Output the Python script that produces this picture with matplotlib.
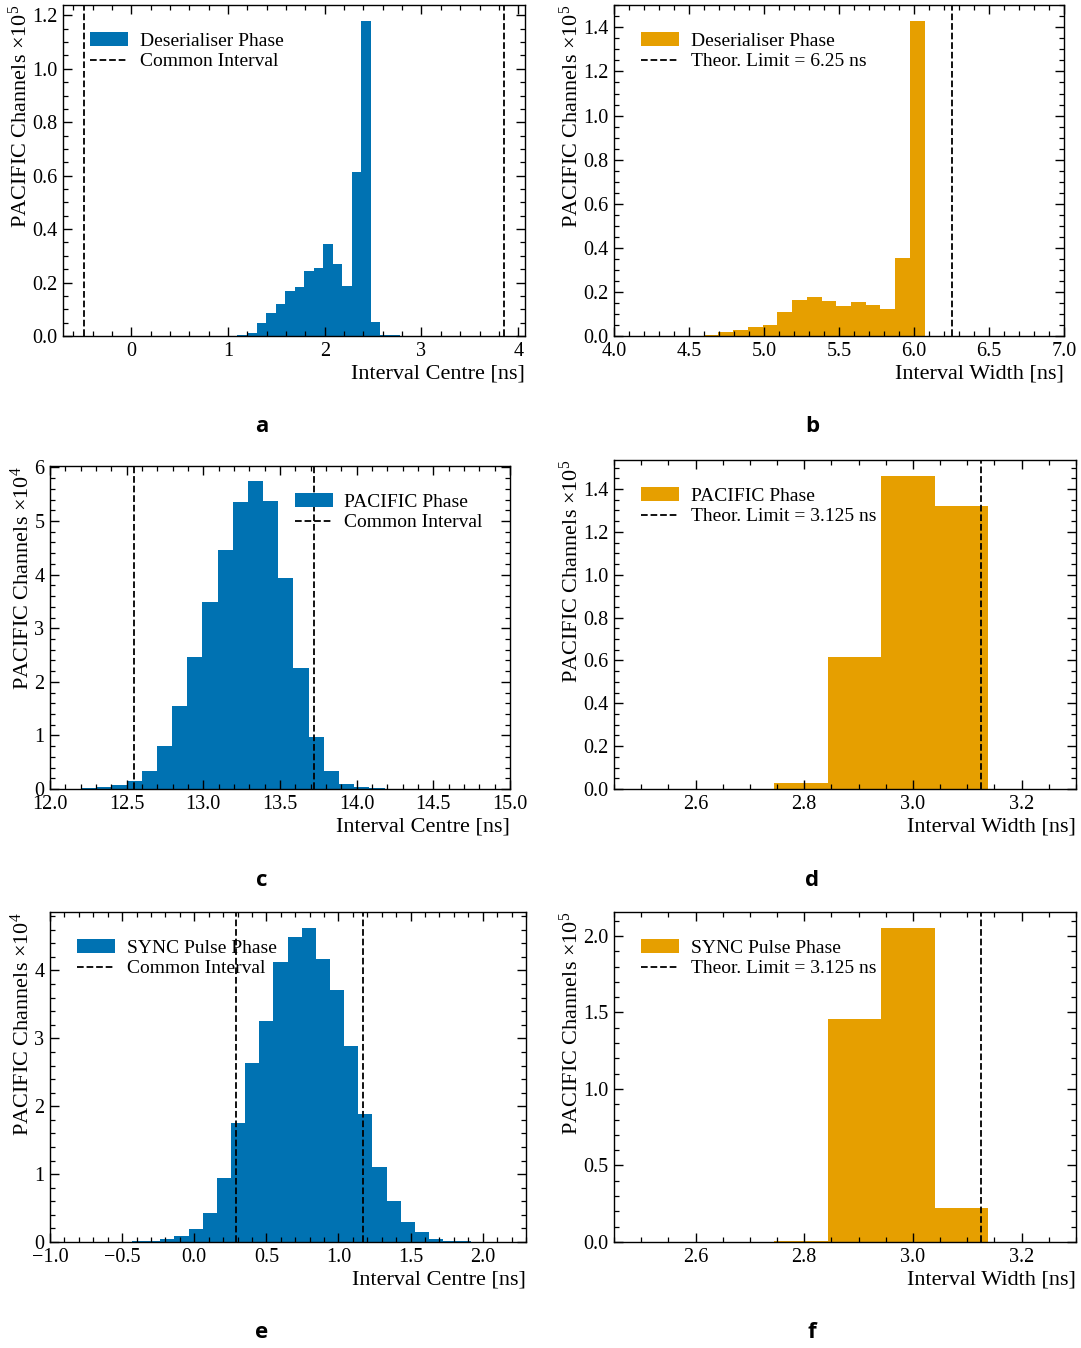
import matplotlib
matplotlib.use("Agg")
import matplotlib.pyplot as plt
import numpy as np
from matplotlib.ticker import AutoMinorLocator, MultipleLocator

# colours (Okabe-Ito blue / orange)
BLUE = "#0072B2"
ORANGE = "#E69F00"

# ---- panel a: deserialiser phase, interval centre (x1e5) ----
a_start, a_width = 1.0, 0.0985
a_counts = [0.001, 0.002, 0.010, 0.049, 0.0875, 0.121, 0.1675, 0.184, 0.2425,
            0.255, 0.344, 0.269, 0.1875, 0.614, 1.18, 0.0525, 0.003, 0.002, 0.001]
a_lines = [-0.485, 3.855]

# ---- panel b: deserialiser phase, interval width (x1e5) ----
b_start, b_width = 3.9106, 0.0982
b_counts = [0.001, 0.001, 0.001, 0.001, 0.001, 0.001, 0.002,
            0.006, 0.018, 0.029, 0.042, 0.048, 0.111, 0.165, 0.177, 0.161,
            0.135, 0.152, 0.142, 0.121, 0.352, 1.43]
b_limit = 6.25

# ---- panel c: PACIFIC phase, interval centre (x1e4) ----
c_start, c_width = 12.004, 0.099
c_counts = [0.005, 0.005, 0.01, 0.03, 0.07, 0.15, 0.34, 0.81, 1.54, 2.47, 3.49,
            4.46, 5.35, 5.74, 5.37, 3.94, 2.26, 0.97, 0.33, 0.10, 0.03, 0.01,
            0.005, 0.005, 0.005, 0.003]
c_lines = [12.546, 13.719]

# ---- panel d: PACIFIC phase, interval width (x1e5) ----
d_start, d_width = 2.4495, 0.0985
d_counts = [0.002, 0.002, 0.002, 0.028, 0.616, 1.462, 1.319]
d_limit = 3.125

# ---- panel e: SYNC pulse phase, interval centre (x1e4) ----
e_start, e_width = -1.019, 0.098
e_counts = [0.003, 0.003, 0.004, 0.004, 0.005, 0.006, 0.008,
            0.02, 0.04, 0.09, 0.19, 0.43, 0.94, 1.75, 2.63, 3.26, 4.13, 4.50,
            4.63, 4.17, 3.71, 2.89, 1.88, 1.10, 0.61, 0.30, 0.14, 0.05, 0.015,
            0.008, 0.005, 0.003, 0.002]
e_lines = [0.29, 1.172]

# ---- panel f: SYNC pulse phase, interval width (x1e5) ----
f_start, f_width = 2.4495, 0.0985
f_counts = [0.002, 0.002, 0.003, 0.004, 1.458, 2.054, 0.224]
f_limit = 3.125

plt.rcParams["font.family"] = ["Liberation Serif", "DejaVu Serif"]
plt.rcParams["mathtext.fontset"] = "custom"
plt.rcParams["mathtext.rm"] = "Liberation Serif"
plt.rcParams["mathtext.it"] = "Liberation Serif:italic"
plt.rcParams["font.size"] = 14
plt.rcParams["axes.linewidth"] = 1.0

W, H = 1081, 1348
fig = plt.figure(figsize=(W / 100, H / 100), dpi=100)


def make_ax(l, r, t, b):
    ax = fig.add_axes([l / W, 1 - b / H, (r - l) / W, (b - t) / H])
    ax.tick_params(which="both", direction="in", top=True, right=True,
                   labelsize=14.5, pad=4)
    ax.tick_params(which="major", length=6.5, width=1.0)
    ax.tick_params(which="minor", length=3.5, width=0.9)
    ax.xaxis.set_minor_locator(AutoMinorLocator())
    ax.yaxis.set_minor_locator(AutoMinorLocator())
    return ax


def edges(start, width, n):
    return start + width * np.arange(n + 1)


def finish(ax, xlabel, exp, tag, tagx, tagy):
    ax.set_xlabel(xlabel, loc="right", fontsize=16, labelpad=3)
    ax.set_ylabel("PACIFIC Channels $\\times10^{%d}$" % exp, loc="top",
                  fontsize=16, labelpad=0.5)
    fig.text(tagx / W, 1 - tagy / H, tag, ha="center", va="center",
             fontsize=16, fontweight="bold", family="Open Sans")


leg_kw = dict(frameon=False, fontsize=14, handlelength=1.95, handleheight=0.7,
              handletextpad=0.6, labelspacing=0.15, borderaxespad=1.0)

# a
ax = make_ax(63, 525, 5, 336)
ax.stairs(a_counts, edges(a_start, a_width, len(a_counts)), fill=True,
          color=BLUE, label="Deserialiser Phase")
for i, x in enumerate(a_lines):
    ax.axvline(x, color="k", ls="--", lw=1.3,
               label="Common Interval" if i == 0 else None)
ax.set_xlim(-0.705, 4.07)
ax.set_ylim(0, max(a_counts) * 1.05)
ax.legend(loc="upper left", **leg_kw)
finish(ax, "Interval Centre [ns]", 5, "a", 262, 427)

# b
ax = make_ax(614, 1064, 5, 336)
ax.stairs(b_counts, edges(b_start, b_width, len(b_counts)), fill=True,
          color=ORANGE, label="Deserialiser Phase")
ax.axvline(b_limit, color="k", ls="--", lw=1.3,
           label="Theor. Limit = %.2f ns" % b_limit)
ax.set_xlim(4.0, 7.0)
ax.set_ylim(0, max(b_counts) * 1.05)
ax.legend(loc="upper left", **leg_kw)
finish(ax, "Interval Width [ns]", 5, "b", 812, 427)

# c
ax = make_ax(50, 510, 466, 789)
ax.stairs(c_counts, edges(c_start, c_width, len(c_counts)), fill=True,
          color=BLUE, label="PACIFIC Phase")
for i, x in enumerate(c_lines):
    ax.axvline(x, color="k", ls="--", lw=1.3,
               label="Common Interval" if i == 0 else None)
ax.set_xlim(12.0, 15.0)
ax.set_ylim(0, max(c_counts) * 1.05)
ax.legend(loc="upper right", **leg_kw)
finish(ax, "Interval Centre [ns]", 4, "c", 262, 880)

# d
ax = make_ax(614, 1076, 460, 789)
ax.stairs(d_counts, edges(d_start, d_width, len(d_counts)), fill=True,
          color=ORANGE, label="PACIFIC Phase")
ax.axvline(d_limit, color="k", ls="--", lw=1.3,
           label="Theor. Limit = %.3f ns" % d_limit)
ax.set_xlim(2.45, 3.3)
ax.set_ylim(0, max(d_counts) * 1.05)
ax.legend(loc="upper left", **leg_kw)
finish(ax, "Interval Width [ns]", 5, "d", 812, 880)

# e
ax = make_ax(50, 526, 912, 1242)
ax.stairs(e_counts, edges(e_start, e_width, len(e_counts)), fill=True,
          color=BLUE, label="SYNC Pulse Phase")
for i, x in enumerate(e_lines):
    ax.axvline(x, color="k", ls="--", lw=1.3,
               label="Common Interval" if i == 0 else None)
ax.set_xlim(-1.0, 2.3)
ax.set_ylim(0, max(e_counts) * 1.05)
ax.legend(loc="upper left", **leg_kw)
finish(ax, "Interval Centre [ns]", 4, "e", 262, 1333)

# f
ax = make_ax(614, 1076, 912, 1242)
ax.stairs(f_counts, edges(f_start, f_width, len(f_counts)), fill=True,
          color=ORANGE, label="SYNC Pulse Phase")
ax.axvline(f_limit, color="k", ls="--", lw=1.3,
           label="Theor. Limit = %.3f ns" % f_limit)
ax.set_xlim(2.45, 3.3)
ax.set_ylim(0, max(f_counts) * 1.05)
ax.yaxis.set_major_locator(MultipleLocator(0.5))
ax.yaxis.set_minor_locator(AutoMinorLocator())
ax.legend(loc="upper left", **leg_kw)
finish(ax, "Interval Width [ns]", 5, "f", 812, 1333)

fig.savefig("out.png", dpi=100)
